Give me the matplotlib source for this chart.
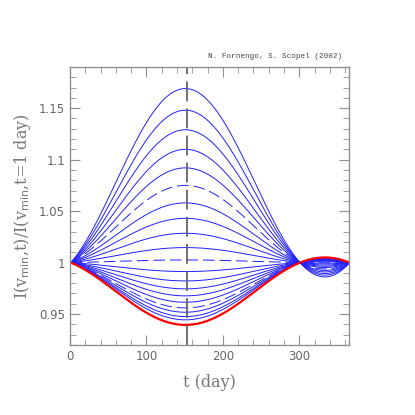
import matplotlib
matplotlib.use("Agg")
import matplotlib.pyplot as plt
import numpy as np
from matplotlib.ticker import MultipleLocator, FixedFormatter, FixedLocator

# peak value of each curve at t ~ 152 day, top to bottom
peak_ratio = [1.169, 1.148, 1.129, 1.110, 1.092, 1.075, 1.058, 1.043, 1.0285,
              1.0146, 1.0026, 0.9913, 0.9822, 0.9745, 0.9677, 0.9615, 0.956,
              0.9518, 0.9476, 0.9444]
dashed = [1.075, 1.0026, 0.956]
red_peak = 0.9395

t_peak = 151.0      # phase of the annual modulation
t_line = 152.5      # vertical dashed marker
period = 365.0

x_ticks = [0, 100, 200, 300]
y_ticks = [0.95, 1.0, 1.05, 1.1, 1.15]
y_ticklabels = ["0.95", "1", "1.05", "1.1", "1.15"]

t = np.linspace(1, 365, 400)
c = np.cos(2 * np.pi * (t - t_peak) / period)
c1 = np.cos(2 * np.pi * (1 - t_peak) / period)


def ratio(p):
    # amplitude of the modulation from the peak value
    r = (p - 1) / (1 - p * c1)
    return (1 + r * c) / (1 + r * c1)


fig = plt.figure(figsize=(4.15, 4.15), dpi=100)
ax = fig.add_axes([0.1687, 0.1687, 0.672, 0.670])

for p in peak_ratio:
    if p in dashed:
        ax.plot(t, ratio(p), color="#2020ff", lw=0.7, dashes=(12, 5))
    else:
        ax.plot(t, ratio(p), color="#2020ff", lw=0.7)
ax.plot(t, ratio(red_peak), color="red", lw=1.6)

ax.axvline(t_line, color="#666666", lw=1.3, dashes=(11, 4))

ax.set_xlim(0, 365)
ax.set_ylim(0.92, 1.19)

ax.xaxis.set_major_locator(FixedLocator(x_ticks))
ax.xaxis.set_minor_locator(MultipleLocator(20))
ax.yaxis.set_major_locator(FixedLocator(y_ticks))
ax.yaxis.set_major_formatter(FixedFormatter(y_ticklabels))
ax.yaxis.set_minor_locator(MultipleLocator(0.01))

gray = "#909090"
ax.tick_params(which="both", direction="in", top=True, right=True,
               color=gray, labelcolor="#666666", labelsize=8.5)
ax.tick_params(which="major", length=7, width=0.8)
ax.tick_params(which="minor", length=4, width=0.6)
for s in ax.spines.values():
    s.set_color(gray)
    s.set_linewidth(1.0)

ax.set_xlabel("t (day)", family="DejaVu Serif", fontsize=11.5, color="#777777",
              labelpad=8)
ax.set_ylabel(r"I(v$_{\rm min}$,t)/I(v$_{\rm min}$,t=1 day)",
              family="DejaVu Serif", fontsize=11.5, color="#777777", labelpad=4)

fig.text(0.824, 0.855, "N. Fornengo, S. Scopel (2002)", ha="right",
         va="bottom", fontsize=5.5, family="Liberation Mono", color="#444444")

fig.savefig("out.png", dpi=100)
